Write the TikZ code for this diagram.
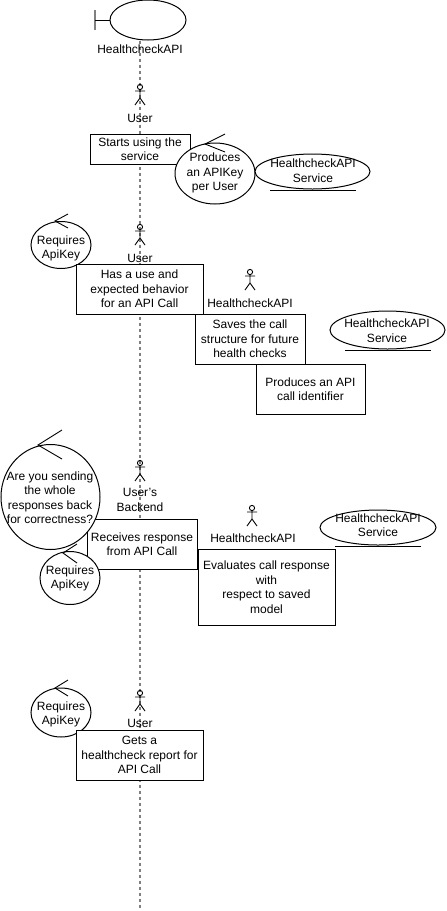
\documentclass[tikz,border=0pt]{standalone}
\usepackage{fontspec}
\usetikzlibrary{shapes.geometric}
\setmainfont{Liberation Sans}
\begin{document}
\begin{tikzpicture}[x=1pt,y=-1pt,line width=1pt,
  txt/.style={inner sep=0pt,align=center,font=\fontsize{12}{14.5}\selectfont},
  boxn/.style={draw=black,fill=white,inner sep=0pt,align=center,font=\fontsize{12}{14.5}\selectfont},
  ell/.style={draw=black,fill=white,ellipse,inner sep=0pt},
  lifeline/.style={draw=gray,dash pattern=on 3pt off 3pt,line width=1.2pt},
  stroke/.style={draw=black,line width=0.9pt},
  actorfig/.pic={
    \draw[stroke] (0,0) circle (2.6);
    \draw[stroke] (0,2.6) -- (0,11) (-5,4) -- (5,4) (-5,18) -- (0,11) -- (5,18);
  }]
\useasboundingbox (0,0) rectangle (447,911);
\fill[white] (0,0) rectangle (447,911);

% top boundary
\node[ell,minimum width=76pt,minimum height=40pt] (top) at (148,20) {};
\coordinate (lifeEnd) at (140,908);
\draw[lifeline] (lifeEnd |- top.south) -- (lifeEnd);
\coordinate (barA) at (95,10);
\coordinate (barB) at (95,30);
\coordinate (barM) at (95,20);
\draw[line width=1.2pt,draw=gray] (barA) -- (barB);
\draw[stroke] (barM) -- (top.west);
\node[txt] (t0) at (140,49) {HealthcheckAPI};

% first use case
\pic at (140,87) {actorfig};
\node[txt] (u1) at (140,118) {User};
\node[boxn,minimum width=100pt,minimum height=30pt] (b1) at (140,149) {Starts using the\\service};
\node[ell,minimum width=80pt,minimum height=61pt] (c1) at (215,173.5) {};
\node[txt] at (215,173) {Produces\\an APIKey\\per User};
\draw[stroke] (225,134) -- (205,144) -- (225,152);
\node[ell,minimum width=115pt,minimum height=35pt] (s1) at (312.5,171.5) {};
\node[txt] at (313,170.5) {HealthcheckAPI\\Service};
\draw[stroke] (270,190) -- (356,190);

% second use case
\node[ell,minimum width=60pt,minimum height=47pt] (r1) at (61,245) {};
\node[txt] at (61,248.5) {Requires\\ApiKey};
\draw[stroke] (68,214) -- (55,221) -- (68,228);
\pic at (140,227) {actorfig};
\node[txt] (u2) at (140,258) {User};
\node[boxn,minimum width=127pt,minimum height=50pt] (b2) at (139.5,289) {Has a use and\\expected behavior\\for an API Call};
\pic at (250,272) {actorfig};
\node[txt] (h2) at (250,303) {HealthcheckAPI};
\node[boxn,minimum width=110pt,minimum height=50pt] (b3) at (250,339) {Saves the call\\structure for future\\health checks};
\node[boxn,minimum width=109pt,minimum height=50pt] (b4) at (310.5,389) {Produces an API\\call identifier};
\node[ell,minimum width=115pt,minimum height=38pt] (s2) at (387.5,330) {};
\node[txt] at (387,330.5) {HealthcheckAPI\\Service};
\draw[stroke] (345,350) -- (431,350);

% third use case
\pic at (140,463) {actorfig};
\node[txt] (u3) at (140,500) {User's\\Backend};
\node[boxn,minimum width=110pt,minimum height=50pt] (b5) at (142,544) {Receives response\\from API Call};
\node[ell,minimum width=99pt,minimum height=105pt] (c2) at (50.5,497) {};
\node[txt] at (50,497.5) {Are you sending\\the whole\\responses back\\for correctness?};
\draw[stroke] (62,430) -- (38,445) -- (62,459);
\node[ell,minimum width=60pt,minimum height=53pt] (r2) at (70,578) {};
\node[txt] at (70,578.5) {Requires\\ApiKey};
\draw[stroke] (77,544) -- (63,553) -- (77,563);
\pic at (252,508) {actorfig};
\node[txt] (h3) at (253,538) {HealthcheckAPI};
\node[boxn,minimum width=137pt,minimum height=76pt] (b6) at (266.5,587) {Evaluates call response\\with\\respect to saved\\model};
\node[ell,minimum width=116pt,minimum height=35pt] (s3) at (378,527.5) {};
\node[txt] at (378,525) {HealthcheckAPI\\Service};
\draw[stroke] (335,546) -- (421,546);

% fourth use case
\node[ell,minimum width=60pt,minimum height=49pt] (r3) at (61,712.5) {};
\node[txt] at (61,714.5) {Requires\\ApiKey};
\draw[stroke] (68,680) -- (55,688) -- (68,696);
\pic at (140,693) {actorfig};
\node[txt] (u4) at (140,723) {User};
\node[boxn,minimum width=127pt,minimum height=50pt] (b7) at (139.5,755) {Gets a\\healthcheck report for\\API Call};
\end{tikzpicture}
\end{document}
